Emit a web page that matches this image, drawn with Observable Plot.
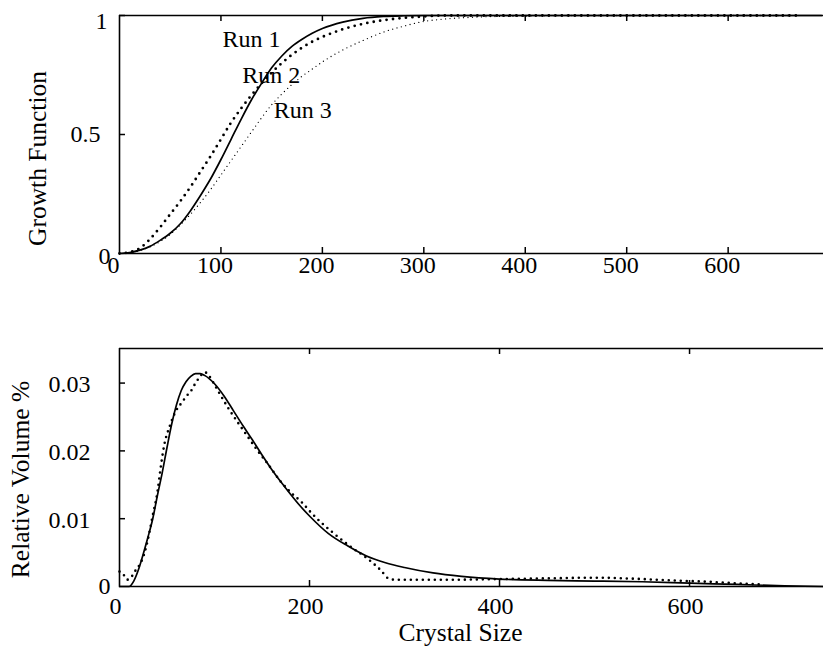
<!DOCTYPE html>
<html>
<head>
<meta charset="utf-8">
<script src="https://cdn.jsdelivr.net/npm/d3@7"></script>
<script src="https://cdn.jsdelivr.net/npm/@observablehq/plot@0.6"></script>
<style>
  body { margin: 0; background: #fff; }
  svg { display: block; }
</style>
</head>
<body>
<div id="chart"></div>
<script>
// ---------- Data: top panel (Growth Function) ----------
const run1X = [0, 10, 20, 30, 40, 50, 60, 70, 80, 90, 100, 110, 120, 130, 140, 150, 160, 170, 180, 190, 200, 220, 240, 260, 280, 300, 692];
const run1Y = [0, 0.004, 0.014, 0.03, 0.055, 0.085, 0.125, 0.18, 0.245, 0.315, 0.395, 0.48, 0.565, 0.645, 0.715, 0.78, 0.83, 0.87, 0.9, 0.925, 0.945, 0.972, 0.988, 0.996, 0.999, 1, 1];

const run2X = [0, 10, 20, 30, 40, 50, 60, 70, 80, 90, 100, 110, 120, 130, 140, 150, 160, 170, 180, 190, 200, 220, 240, 260, 280, 300, 320, 672];
const run2Y = [0, 0.006, 0.022, 0.06, 0.11, 0.165, 0.22, 0.28, 0.345, 0.41, 0.48, 0.55, 0.61, 0.665, 0.715, 0.76, 0.8, 0.835, 0.865, 0.89, 0.91, 0.942, 0.965, 0.98, 0.99, 0.996, 1, 1];

const run3X = [0, 10, 20, 30, 40, 50, 60, 70, 80, 90, 100, 110, 120, 130, 140, 150, 160, 170, 180, 190, 200, 220, 240, 260, 280, 300, 320, 350, 400, 450, 660];
const run3Y = [0, 0.003, 0.012, 0.028, 0.05, 0.08, 0.12, 0.165, 0.215, 0.27, 0.33, 0.39, 0.45, 0.51, 0.57, 0.625, 0.67, 0.71, 0.745, 0.775, 0.805, 0.855, 0.895, 0.93, 0.955, 0.975, 0.985, 0.993, 0.998, 1, 1];

const runLabels = ["Run 1", "Run 2", "Run 3"];
const runLabelX = [101.5, 121, 152];
const runLabelY = [0.866, 0.718, 0.571];

// ---------- Data: bottom panel (Relative Volume %) ----------
const fitX = [0, 10, 15, 20, 25, 30, 35, 40, 45, 50, 55, 60, 65, 70, 75, 80, 85, 90, 100, 110, 120, 130, 140, 150, 160, 170, 180, 190, 200, 220, 240, 260, 280, 300, 330, 360, 400, 450, 500, 550, 600, 650, 700, 741];
const fitY = [0, 0, 0.0008, 0.0025, 0.0048, 0.0073, 0.0100, 0.0135, 0.0168, 0.0205, 0.0240, 0.0268, 0.0289, 0.0302, 0.0310, 0.0314, 0.0314, 0.0311, 0.0299, 0.0281, 0.0259, 0.0237, 0.0216, 0.0194, 0.0173, 0.0154, 0.0136, 0.0119, 0.0104, 0.0078, 0.0060, 0.0045, 0.0035, 0.0028, 0.0020, 0.0015, 0.0011, 0.0009, 0.0008, 0.0007, 0.0005, 0.0003, 0.0001, 0];

const measX = [0, 4, 8, 13, 17, 22, 26, 30, 35, 40, 43, 47, 53, 59, 66, 70, 76, 80, 84, 90, 93, 99, 106, 115, 125, 134, 145, 156, 169, 180, 192, 201, 208, 225, 243, 261, 275, 283, 290, 350, 400, 450, 500, 550, 580, 620, 646, 675];
const measY = [0.0022, 0.0018, 0.0010, 0.0015, 0.0024, 0.0034, 0.0048, 0.0070, 0.0105, 0.0140, 0.0172, 0.0208, 0.0237, 0.0258, 0.0272, 0.0280, 0.0290, 0.0300, 0.0308, 0.0316, 0.0313, 0.0300, 0.0283, 0.0262, 0.0241, 0.0223, 0.0201, 0.0181, 0.0156, 0.0139, 0.0124, 0.0110, 0.0100, 0.0079, 0.0059, 0.0041, 0.0024, 0.0012, 0.0010, 0.0010, 0.0011, 0.0012, 0.0013, 0.0011, 0.0009, 0.0007, 0.0005, 0.0003];

// ---------- Axes / ticks ----------
const topXTicks = [0, 100, 200, 300, 400, 500, 600];
const topYTicks = [0, 0.5, 1];
const botXTicks = [0, 200, 400, 600];
const botYTicks = [0, 0.01, 0.02, 0.03];
const topYTitle = "Growth Function";
const botYTitle = "Relative Volume %";
const botXTitle = "Crystal Size";

const W = 823, ML = 119;
const FONT = "Liberation Serif, Times New Roman, serif";
const pts = (xs, ys) => xs.map((x, i) => ({x, y: ys[i]}));

function frameMarks(xDom, yDom, xT, yT, frameH, frameW) {
  const inner = (arr) => arr.filter(v => v !== 0);
  return [
    Plot.ruleY([yDom[0]], {stroke: "#000", strokeWidth: 1.6}),
    Plot.ruleY([yDom[1]], {stroke: "#000", strokeWidth: 1.6}),
    Plot.ruleX([xDom[0]], {stroke: "#000", strokeWidth: 1.6}),
    Plot.tickX(inner(xT), {x: d => d, insetTop: frameH - 6, stroke: "#000", strokeWidth: 1.5}),
    Plot.tickX(inner(xT), {x: d => d, insetBottom: frameH - 6, stroke: "#000", strokeWidth: 1.5}),
    Plot.tickY(inner(yT), {y: d => d, insetRight: frameW - 6, stroke: "#000", strokeWidth: 1.5})
  ];
}

// ---------- Top panel ----------
const topXDom = [0, 694], topYDom = [0, 1];
const topChart = Plot.plot({
  width: W, height: 300,
  marginLeft: ML, marginRight: 0, marginTop: 15, marginBottom: 47,
  style: {fontFamily: FONT, fontSize: "24px", background: "#fff", color: "#000", overflow: "visible"},
  x: {domain: topXDom, axis: null},
  y: {domain: topYDom, axis: null},
  marks: [
    ...frameMarks(topXDom, topYDom, topXTicks, topYTicks, 238, 704),
    Plot.line(pts(run3X, run3Y), {x: "x", y: "y", curve: "monotone-x", stroke: "#000", strokeWidth: 1.3, strokeDasharray: "0,4.5", strokeLinecap: "round"}),
    Plot.line(pts(run2X, run2Y), {x: "x", y: "y", curve: "monotone-x", stroke: "#000", strokeWidth: 2.8, strokeDasharray: "0,6.5", strokeLinecap: "round"}),
    Plot.line(pts(run1X, run1Y), {x: "x", y: "y", curve: "monotone-x", stroke: "#000", strokeWidth: 1.7}),
    Plot.text(runLabels, {x: (d, i) => runLabelX[i], y: (d, i) => runLabelY[i], text: d => d, textAnchor: "start", lineAnchor: "bottom", fontSize: 24, fill: "#000"}),
    Plot.text(topXTicks, {x: d => d, frameAnchor: "bottom", text: d => String(d), textAnchor: "middle", lineAnchor: "top", dy: 2, dx: -6, fontSize: 24, fill: "#000"}),
    Plot.text([topYTicks[0]], {y: d => d, frameAnchor: "left", text: d => String(d), textAnchor: "end", lineAnchor: "middle", dx: -9, dy: 3, fontSize: 24, fill: "#000"}),
    Plot.text([topYTicks[1]], {y: d => d, frameAnchor: "left", text: d => String(d), textAnchor: "end", lineAnchor: "middle", dx: -19, fontSize: 24, fill: "#000"}),
    Plot.text([topYTicks[2]], {y: d => d, frameAnchor: "left", text: d => String(d), textAnchor: "end", lineAnchor: "middle", dx: -12, dy: 6, fontSize: 24, fill: "#000"}),
    Plot.text([topYTitle], {frameAnchor: "left", text: d => d, rotate: -90, textAnchor: "middle", lineAnchor: "middle", dx: -82, dy: 24, fontSize: 25.5, fill: "#000"})
  ]
});

// ---------- Bottom panel ----------
const botXDom = [0, 741], botYDom = [0, 0.0351];
const bottomChart = Plot.plot({
  width: W, height: 356,
  marginLeft: ML, marginRight: 0, marginTop: 48, marginBottom: 70,
  style: {fontFamily: FONT, fontSize: "24px", background: "#fff", color: "#000", overflow: "visible"},
  x: {domain: botXDom, axis: null},
  y: {domain: botYDom, axis: null},
  marks: [
    ...frameMarks(botXDom, botYDom, botXTicks, botYTicks, 238, 704),
    Plot.line(pts(measX, measY), {x: "x", y: "y", curve: "monotone-x", stroke: "#000", strokeWidth: 2.6, strokeDasharray: "0,6", strokeLinecap: "round"}),
    Plot.line(pts(fitX, fitY), {x: "x", y: "y", curve: "monotone-x", stroke: "#000", strokeWidth: 1.7}),
    Plot.text(botXTicks, {x: d => d, frameAnchor: "bottom", text: d => String(d), textAnchor: "middle", lineAnchor: "top", dy: 10, dx: -4, fontSize: 24, fill: "#000"}),
    Plot.text([botYTicks[0]], {y: d => d, frameAnchor: "left", text: d => String(d), textAnchor: "end", lineAnchor: "middle", dx: -9, fontSize: 24, fill: "#000"}),
    Plot.text(botYTicks.slice(1), {y: d => d, frameAnchor: "left", text: d => String(d), textAnchor: "end", lineAnchor: "middle", dx: -29, dy: 1.5, fontSize: 24, fill: "#000"}),
    Plot.text([botYTitle], {frameAnchor: "left", text: d => d, rotate: -90, textAnchor: "middle", lineAnchor: "middle", dx: -99, dy: 12, fontSize: 25.5, fill: "#000"}),
    Plot.text([botXTitle], {frameAnchor: "bottom", text: d => d, textAnchor: "middle", lineAnchor: "bottom", dx: -11, dy: 54, fontSize: 25.5, fill: "#000"})
  ]
});

const root = document.getElementById("chart");
root.appendChild(topChart);
root.appendChild(bottomChart);
</script>
</body>
</html>
